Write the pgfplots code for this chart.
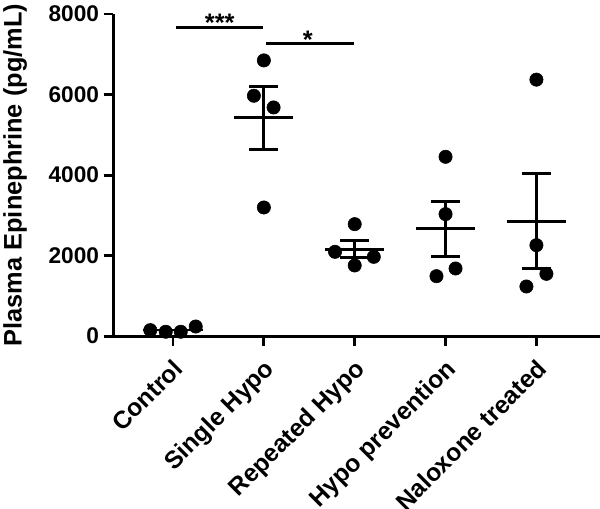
\documentclass[border=0pt]{standalone}
\usepackage{fontspec}
\setmainfont{Liberation Sans}
\usepackage{pgfplots}
\pgfplotsset{compat=1.18}
\begin{document}
\begin{tikzpicture}
\begin{axis}[
  scale only axis, width=365pt, height=241.5pt,
  xmin=-0.66, xmax=4.70, ymin=0, ymax=8000,
  axis x line*=bottom, axis y line*=left,
  axis line style={line width=2.2pt, black},
  tick align=outside, major tick length=7pt,
  tick style={line width=2.2pt, black},
  xtick={0,1,2,3,4},
  xticklabels={Control, Single Hypo, Repeated Hypo, Hypo prevention, Naloxone treated},
  ytick={0,2000,4000,6000,8000},
  scaled ticks=false,
  /pgf/number format/1000 sep={},
  /pgf/number format/assume math mode=true,
  yticklabel style={font=\bfseries\fontsize{17}{20}\selectfont},
  xticklabel style={font=\bfseries\fontsize{18.5}{22}\selectfont, xshift=-1pt, yshift=-9pt, rotate=45, anchor=north east, inner sep=0pt},
  ylabel={Plasma Epinephrine (pg/mL)},
  every axis y label/.style={at={(rel axis cs:0,0.5)}, xshift=-73.5pt, rotate=90, anchor=center, font=\bfseries\fontsize{19}{22}\selectfont},
  clip=false,
]
\addplot[only marks, mark=*, mark size=5pt, black] coordinates {
(-0.25,150) (-0.08,110) (0.085,110) (0.25,240)
(1.0,6848) (0.89,5970) (1.107,5680) (1.0,3196)
(2.0,2782) (1.783,2095) (2.21,1970) (2.0,1756)
(3.0,4454) (3.0,3031) (3.11,1681) (2.9,1490)
(4.0,6370) (4.0,2260) (4.11,1548) (3.89,1234)
};
\addplot[black, line width=2.2pt, unbounded coords=jump] coordinates {
(-0.325,153) (0.325,153) (0,nan)
(0,123) (0,183) (0,nan)
(0.675,5432) (1.325,5432) (1,nan)
(1,4645) (1,6210) (1,nan)
(0.84,4645) (1.16,4645) (1,nan)
(0.84,6210) (1.16,6210) (1,nan)
(1.675,2161) (2.325,2161) (2,nan)
(2,1946) (2,2385) (2,nan)
(1.84,1946) (2.16,1946) (2,nan)
(1.84,2385) (2.16,2385) (2,nan)
(2.675,2666) (3.325,2666) (3,nan)
(3,1980) (3,3353) (3,nan)
(2.84,1980) (3.16,1980) (3,nan)
(2.84,3353) (3.16,3353) (3,nan)
(3.675,2857) (4.325,2857) (4,nan)
(4,1672) (4,4041) (4,nan)
(3.84,1672) (4.16,1672) (4,nan)
(3.84,4041) (4.16,4041) (4,nan)
(0.03,7675) (0.985,7675) (1,nan)
(1.027,7262) (1.99,7262)
};
\node[anchor=base, inner sep=0pt, font=\bfseries\fontsize{19}{22}\selectfont] at (axis cs:0.514,7560) {***};
\node[anchor=base, inner sep=0pt, font=\bfseries\fontsize{19}{22}\selectfont] at (axis cs:1.485,7150) {*};
\end{axis}
\pgfresetboundingbox
\path ([shift={(-84.75pt,-129pt)}]current axis.south west) rectangle ([shift={(0pt,10.5pt)}]current axis.north east);
\end{tikzpicture}
\end{document}
